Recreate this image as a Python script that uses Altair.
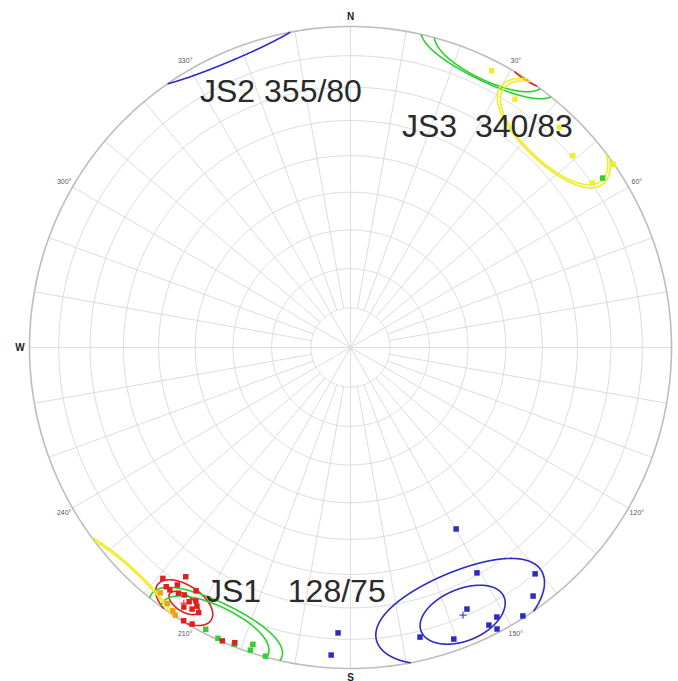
import numpy as np
import pandas as pd
import altair as alt

# ---------------------------------------------------------------
# Pole data: trend / plunge (degrees), lower-hemisphere equal-area
# ---------------------------------------------------------------
red_trend = [219.1, 215.7, 216.1, 217.6, 216.7, 215.0, 213.9, 212.4, 211.4,
             210.7, 212.7, 211.2, 209.8, 211.4, 209.8, 203.6, 201.4, 212.4]
red_plunge = [8.1, 13.1, 9.3, 6.6, 6.5, 7.3, 7.9, 6.9, 8.3,
              7.0, 4.4, 5.3, 5.4, 0.3, 0.8, 0.3, 1.4, 11.2]

orange_trend = [217.8, 215.6, 214.0, 213.2]
orange_plunge = [3.7, 2.2, 1.2, 0.4]

green_trend = [207.2, 204.5, 201.4, 198.3, 198.2, 195.4, 56.1]
green_plunge = [1.5, 0.5, 0.8, 0.8, 3.0, 0.3, 6.0]

yellow_trend = [27.0, 33.5, 43.5, 49.2, 55.1, 55.8]
yellow_plunge = [3.6, 8.0, 6.1, 9.4, 0.3, 9.8]

blue_trend = [149.8, 150.7, 140.8, 143.7, 147.3, 151.5, 156.0,
              153.5, 152.5, 160.5, 166.5, 182.5, 183.6]
blue_plunge = [34.9, 20.6, 9.9, 4.4, 0.7, 5.0, 11.8,
               3.8, 1.3, 4.1, 8.0, 12.0, 4.5]

# mean poles
mean_set = ["red", "blue"]
mean_trend = [213.1, 157.2]
mean_plunge = [5.5, 10.5]

# cones around the mean poles (tangential / radial half-angles, degrees)
cone_set = ["red", "red", "green", "green", "yellow", "yellow", "blue", "blue"]
cone_trend = [213.1, 213.1, 205.7, 205.7, 43.5, 43.5, 157.2, 157.2]
cone_plunge = [5.5, 5.5, 1.5, 1.9, 7.4, 7.4, 10.3, 10.3]
cone_tang = [3.2, 6.0, 10.7, 13.2, 12.8, 13.5, 8.7, 17.5]
cone_rad = [2.8, 6.0, 9.2, 10.1, 10.8, 11.3, 8.5, 14.0]

# joint-set annotations
notes = ["JS2 355/80", "JS3\u00a0\u00a0340/83", "JS1\u00a0\u00a0\u00a0128/75"]

# stereonet frame labels
cardinal_az = [0, 90, 180, 270]
cardinal_txt = ["N", "E", "S", "W"]
degree_az = [30, 60, 120, 150, 210, 240, 300, 330]

set_names = ["red", "orange", "green", "yellow", "blue"]
set_colors = ["#e01818", "#f0a21a", "#2fd62f", "#f2f21e", "#1f1fd0"]
line_colors = ["#e02020", "#f0a21a", "#30d030", "#eeee2a", "#2b2bc8"]


def project(trend, plunge):
    """Lambert equal-area, lower hemisphere, unit primitive radius."""
    t = np.radians(np.asarray(trend, float))
    colat = np.radians(90.0 - np.asarray(plunge, float))
    r = np.sin(colat / 2.0) / np.sin(np.pi / 4.0)
    return r * np.sin(t), r * np.cos(t)


def vec_to_tp(v):
    tr = np.degrees(np.arctan2(v[:, 1], v[:, 0])) % 360
    pl = np.degrees(np.arcsin(np.clip(v[:, 2], 0, 1)))
    return tr, pl


def cone_segments(trend, plunge, a, b, n=1440):
    t, p = np.radians(trend), np.radians(plunge)
    c = np.array([np.cos(p) * np.cos(t), np.cos(p) * np.sin(t), np.sin(p)])
    et = np.array([-np.sin(t), np.cos(t), 0.0])
    ep = np.array([-np.sin(p) * np.cos(t), -np.sin(p) * np.sin(t), np.cos(p)])
    phi = np.linspace(0, 2 * np.pi, n, endpoint=False)
    v = (c[None, :]
         + np.tan(np.radians(a)) * np.cos(phi)[:, None] * et[None, :]
         + np.tan(np.radians(b)) * np.sin(phi)[:, None] * ep[None, :])
    v /= np.linalg.norm(v, axis=1)[:, None]
    down = v[:, 2] >= 0
    if down.all():
        return [np.vstack([v, v[:1]])]
    start = np.where(down != np.roll(down, 1))[0][0]
    v = np.roll(v, -start, axis=0)
    down = np.roll(down, -start)
    segs, cur = [], [v[0]]
    for i in range(1, n + 1):
        vi, di = v[i % n], down[i % n]
        vp, dp = v[i - 1], down[i - 1]
        if di != dp:
            s = vp[2] / (vp[2] - vi[2])
            h = vp + s * (vi - vp)
            h[2] = 0.0
            h /= np.linalg.norm(h)
            cur.append(h)
            arr = np.array(cur)
            segs.append(arr if dp else -arr)
            cur = [h, vi]
        else:
            cur.append(vi)
    return segs


# ---------------- grid -----------------
grid_rows = []
az_fine = np.arange(0, 360.5, 1.0)
for k, pl in enumerate(range(10, 90, 10)):
    x, y = project(az_fine, np.full_like(az_fine, pl))
    for j in range(len(x)):
        grid_rows.append({"x": x[j], "y": y[j], "g": f"ring{k}", "o": j})
for az in range(0, 360, 10):
    top = 90 if az % 30 == 0 else 80
    pls = np.linspace(top, 0, 40)
    x, y = project(np.full_like(pls, az), pls)
    for j in range(len(x)):
        grid_rows.append({"x": x[j], "y": y[j], "g": f"rad{az}", "o": j})
grid_df = pd.DataFrame(grid_rows)

px, py = project(az_fine, np.zeros_like(az_fine))
prim_df = pd.DataFrame({"x": px, "y": py, "o": np.arange(len(px))})

# ---------------- cones -----------------
cone_rows = []
for ci in range(len(cone_set)):
    for si, seg in enumerate(cone_segments(cone_trend[ci], cone_plunge[ci],
                                           cone_tang[ci], cone_rad[ci])):
        tr, pl = vec_to_tp(seg)
        x, y = project(tr, pl)
        for j in range(len(x)):
            cone_rows.append({"x": x[j], "y": y[j], "set": cone_set[ci],
                              "seg": f"c{ci}_{si}", "o": j})
cone_df = pd.DataFrame(cone_rows)

# ---------------- poles -----------------
pole_frames = []
for name, tr, pl in [("yellow", yellow_trend, yellow_plunge),
                     ("green", green_trend, green_plunge),
                     ("orange", orange_trend, orange_plunge),
                     ("red", red_trend, red_plunge),
                     ("blue", blue_trend, blue_plunge)]:
    x, y = project(tr, pl)
    pole_frames.append(pd.DataFrame({"x": x, "y": y, "set": name}))
pole_df = pd.concat(pole_frames, ignore_index=True)
pole_df["i"] = np.arange(len(pole_df))

mx, my = project(mean_trend, mean_plunge)
mean_df = pd.DataFrame({"x": mx, "y": my, "set": mean_set})

# ---------------- labels -----------------
cx, cy = np.sin(np.radians(cardinal_az)) * 1.03, np.cos(np.radians(cardinal_az)) * 1.03
card_df = pd.DataFrame({"x": cx, "y": cy, "t": cardinal_txt})
dx, dy = np.sin(np.radians(degree_az)) * 1.03, np.cos(np.radians(degree_az)) * 1.03
deg_df = pd.DataFrame({"x": dx, "y": dy, "t": [f"{a}\u00b0" for a in degree_az]})

# ---------------- chart -----------------
W, H = 678, 681
R = 321.0
cxp, cyp = 350.5, 347.5
xs = alt.Scale(domain=[-cxp / R, (W - cxp) / R], nice=False, zero=False)
ys = alt.Scale(domain=[-(H - cyp) / R, cyp / R], nice=False, zero=False)
X = alt.X("x:Q", scale=xs, axis=None)
Y = alt.Y("y:Q", scale=ys, axis=None)
col = alt.Color("set:N", scale=alt.Scale(domain=set_names, range=set_colors), legend=None)
lcol = alt.Color("set:N", scale=alt.Scale(domain=set_names, range=line_colors), legend=None)

grid = alt.Chart(grid_df).mark_line(color="#dcdcdc", strokeWidth=1).encode(
    x=X, y=Y, detail="g:N", order="o:Q")
prim = alt.Chart(prim_df).mark_line(color="#bdbdbd", strokeWidth=1.6).encode(
    x=X, y=Y, order="o:Q")
cones = alt.Chart(cone_df).mark_line(strokeWidth=1.6).encode(
    x=X, y=Y, detail="seg:N", order="o:Q", color=lcol)
poles = alt.Chart(pole_df).mark_square(size=30, opacity=1).encode(
    x=X, y=Y, color=col, order="i:Q")
means = alt.Chart(mean_df).mark_point(
    shape="M-1,0L1,0M0,-1L0,1", size=50, filled=False, strokeWidth=1, opacity=1
).encode(x=X, y=Y, color=lcol)
cards = alt.Chart(card_df).mark_text(
    font="Liberation Sans", fontWeight="bold", fontSize=10, color="#222222",
    align="center", baseline="middle").encode(x=X, y=Y, text="t:N")
degs = alt.Chart(deg_df).mark_text(
    font="Liberation Sans", fontSize=7, color="#555555",
    align="center", baseline="middle").encode(x=X, y=Y, text="t:N")

note_layers = []
for txt, (nx, ny) in zip(notes, [(200, 102), (402, 137), (206, 602)]):
    note_layers.append(
        alt.Chart(pd.DataFrame({"t": [txt]})).mark_text(
            font="Liberation Sans", fontSize=32, color="#2a2a2a",
            align="left", baseline="alphabetic"
        ).encode(x=alt.value(nx), y=alt.value(ny), text="t:N"))

chart = alt.layer(grid, prim, cones, poles, means, cards, degs, *note_layers).properties(
    width=W, height=H, padding=0, autosize="none", background="white"
).configure_view(strokeWidth=0)

chart.save("out.html", embed_options={"renderer": "svg", "actions": False})
